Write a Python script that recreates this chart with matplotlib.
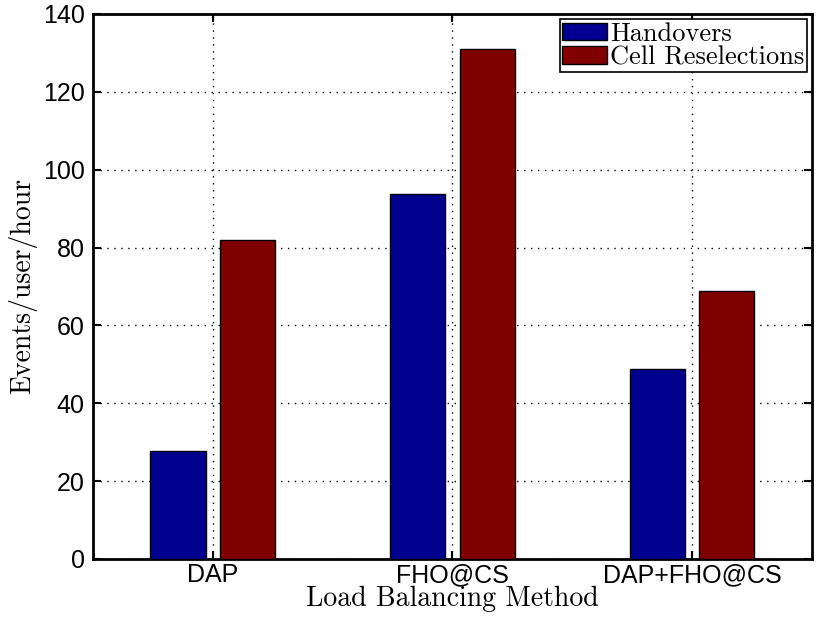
import numpy as np
import matplotlib
matplotlib.use("Agg")
import matplotlib.pyplot as plt

methods = ["DAP", "FHO@CS", "DAP+FHO@CS"]
handovers = [27.8, 93.8, 48.8]
reselections = [81.9, 131.0, 68.8]
series_names = ["Handovers", "Cell Reselections"]

plt.rcParams['font.family'] = ['Liberation Sans', 'DejaVu Sans']

fig = plt.figure(figsize=(8.17, 6.22), dpi=100)
ax = fig.add_axes([0.1138, 0.1013, 0.8801, 0.8762])

x = np.arange(1, len(methods) + 1)
w = 0.23
ax.bar(x - 0.145, handovers, w, color="#00008F", edgecolor="black", linewidth=1, label=series_names[0], zorder=3)
ax.bar(x + 0.145, reselections, w, color="#800000", edgecolor="black", linewidth=1, label=series_names[1], zorder=3)

ax.set_xlim(0.5, 3.5)
ax.set_ylim(0, 140)
ax.set_xticks(x)
ax.set_xticklabels(methods)
ax.set_yticks(np.arange(0, 141, 20))
ax.tick_params(axis="both", direction="in", top=True, right=True, length=6, width=1.5, labelsize=18, pad=6)
ax.tick_params(axis="x", pad=3)
for s in ax.spines.values():
    s.set_linewidth(2)
ax.grid(True, color="black", linestyle=(0, (1, 4)), linewidth=1, zorder=0)

serif = {"family": "cmr10", "size": 20}
ax.set_ylabel("Events/user/hour", fontdict=serif, labelpad=4)
ax.set_xlabel("Load Balancing Method", fontdict=serif, labelpad=-1)

leg = ax.legend(loc="upper right", prop={"family": "cmr10", "size": 19}, fancybox=False, framealpha=1,
                edgecolor="black", borderpad=0.1, labelspacing=0.0, handlelength=1.7, handleheight=0.65,
                handletextpad=0.1, borderaxespad=0.2)
leg.get_frame().set_linewidth(1.2)

fig.savefig("out.png", dpi=100)
